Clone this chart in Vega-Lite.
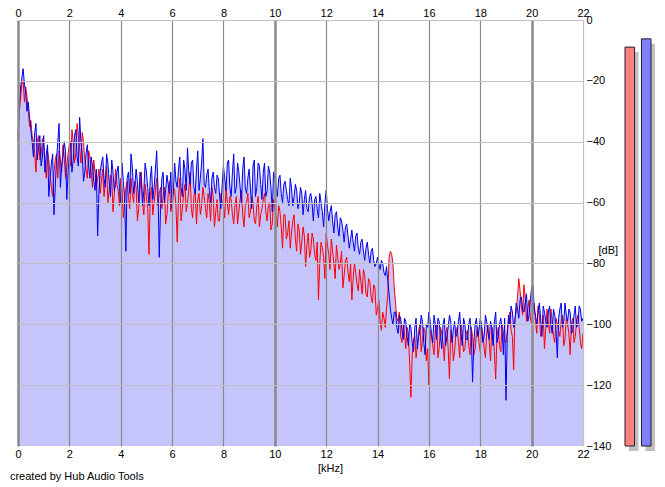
{
  "$schema": "https://vega.github.io/schema/vega-lite/v6.json",
  "description": "Spectrum of a two-channel recording (red and blue) with level meters, 0-22 kHz.",
  "background": "white",
  "padding": {"left": 9, "top": 7, "right": 5, "bottom": 5},
  "bounds": "flush",
  "spacing": 42,
  "title": {
    "text": "created by Hub Audio Tools",
    "orient": "bottom",
    "anchor": "start",
    "font": "Liberation Sans",
    "fontSize": 11,
    "fontWeight": "normal",
    "color": "black",
    "dx": -5,
    "offset": -2
  },
  "resolve": {"scale": {"color": "independent"}},
  "hconcat": [
    {
      "width": 565,
      "height": 426,
      "data": {
        "values": [
          {"f":0,"left":-38,"right":-40},{"f":0.05,"left":-30,"right":-28},{"f":0.1,"left":-26,"right":-22},{"f":0.15,"left":-21,"right":-19},
          {"f":0.2,"left":-20,"right":-16},{"f":0.25,"left":-27,"right":-21},{"f":0.3,"left":-22,"right":-24},{"f":0.35,"left":-25,"right":-30},
          {"f":0.4,"left":-30,"right":-27},{"f":0.45,"left":-35,"right":-32},{"f":0.5,"left":-33,"right":-36},{"f":0.55,"left":-38,"right":-40},
          {"f":0.6,"left":-40,"right":-45},{"f":0.65,"left":-44,"right":-37},{"f":0.7,"left":-50,"right":-34},{"f":0.75,"left":-40,"right":-46},
          {"f":0.8,"left":-38,"right":-42},{"f":0.85,"left":-46,"right":-38},{"f":0.9,"left":-44,"right":-48},{"f":0.95,"left":-39,"right":-45},
          {"f":1,"left":-41,"right":-38},{"f":1.05,"left":-47,"right":-50},{"f":1.1,"left":-52,"right":-44},{"f":1.15,"left":-43,"right":-41},
          {"f":1.2,"left":-46,"right":-58},{"f":1.25,"left":-51,"right":-52},{"f":1.3,"left":-55,"right":-47},{"f":1.35,"left":-58,"right":-44},
          {"f":1.4,"left":-50,"right":-64},{"f":1.45,"left":-46,"right":-55},{"f":1.5,"left":-44,"right":-46},{"f":1.55,"left":-52,"right":-40},
          {"f":1.6,"left":-43,"right":-34},{"f":1.65,"left":-46,"right":-55},{"f":1.7,"left":-50,"right":-48},{"f":1.75,"left":-41,"right":-45},
          {"f":1.8,"left":-45,"right":-40},{"f":1.85,"left":-52,"right":-43},{"f":1.9,"left":-48,"right":-59},{"f":1.95,"left":-44,"right":-50},
          {"f":2,"left":-41,"right":-44},{"f":2.05,"left":-48,"right":-40},{"f":2.1,"left":-36,"right":-50},{"f":2.15,"left":-40,"right":-46},
          {"f":2.2,"left":-47,"right":-38},{"f":2.25,"left":-44,"right":-36},{"f":2.3,"left":-34,"right":-45},{"f":2.35,"left":-38,"right":-48},
          {"f":2.4,"left":-42,"right":-32},{"f":2.45,"left":-47,"right":-40},{"f":2.5,"left":-37,"right":-44},{"f":2.55,"left":-40,"right":-53},
          {"f":2.6,"left":-46,"right":-50},{"f":2.65,"left":-49,"right":-44},{"f":2.7,"left":-52,"right":-41},{"f":2.75,"left":-43,"right":-48},
          {"f":2.8,"left":-45,"right":-52},{"f":2.85,"left":-50,"right":-45},{"f":2.9,"left":-55,"right":-48},{"f":2.95,"left":-46,"right":-53},
          {"f":3,"left":-50,"right":-56},{"f":3.05,"left":-55,"right":-49},{"f":3.1,"left":-52,"right":-71},{"f":3.15,"left":-49,"right":-57},
          {"f":3.2,"left":-57,"right":-50},{"f":3.25,"left":-53,"right":-47},{"f":3.3,"left":-49,"right":-45},{"f":3.35,"left":-58,"right":-52},
          {"f":3.4,"left":-53,"right":-55},{"f":3.45,"left":-48,"right":-44},{"f":3.5,"left":-60,"right":-47},{"f":3.55,"left":-56,"right":-53},
          {"f":3.6,"left":-51,"right":-58},{"f":3.65,"left":-52,"right":-46},{"f":3.7,"left":-63,"right":-50},{"f":3.75,"left":-57,"right":-56},
          {"f":3.8,"left":-49,"right":-54},{"f":3.85,"left":-54,"right":-50},{"f":3.9,"left":-56,"right":-48},{"f":3.95,"left":-61,"right":-55},
          {"f":4,"left":-52,"right":-60},{"f":4.05,"left":-55,"right":-47},{"f":4.1,"left":-65,"right":-53},{"f":4.15,"left":-60,"right":-58},
          {"f":4.2,"left":-55,"right":-76},{"f":4.25,"left":-53,"right":-52},{"f":4.3,"left":-58,"right":-50},{"f":4.35,"left":-62,"right":-57},
          {"f":4.4,"left":-52,"right":-44},{"f":4.45,"left":-57,"right":-48},{"f":4.5,"left":-60,"right":-57},{"f":4.55,"left":-53,"right":-54},
          {"f":4.6,"left":-55,"right":-49},{"f":4.65,"left":-66,"right":-53},{"f":4.7,"left":-62,"right":-60},{"f":4.75,"left":-56,"right":-50},
          {"f":4.8,"left":-50,"right":-52},{"f":4.85,"left":-60,"right":-61},{"f":4.9,"left":-64,"right":-56},{"f":4.95,"left":-54,"right":-47},
          {"f":5,"left":-58,"right":-50},{"f":5.05,"left":-62,"right":-55},{"f":5.1,"left":-77,"right":-61},{"f":5.15,"left":-58,"right":-52},
          {"f":5.2,"left":-55,"right":-48},{"f":5.25,"left":-64,"right":-59},{"f":5.3,"left":-60,"right":-55},{"f":5.35,"left":-56,"right":-49},
          {"f":5.4,"left":-52,"right":-43},{"f":5.45,"left":-61,"right":-55},{"f":5.5,"left":-57,"right":-78},{"f":5.55,"left":-55,"right":-62},
          {"f":5.6,"left":-62,"right":-52},{"f":5.65,"left":-58,"right":-50},{"f":5.7,"left":-55,"right":-60},{"f":5.75,"left":-67,"right":-56},
          {"f":5.8,"left":-64,"right":-51},{"f":5.85,"left":-57,"right":-54},{"f":5.9,"left":-53,"right":-57},{"f":5.95,"left":-63,"right":-50},
          {"f":6,"left":-60,"right":-62},{"f":6.05,"left":-55,"right":-56},{"f":6.1,"left":-56,"right":-47},{"f":6.15,"left":-61,"right":-53},
          {"f":6.2,"left":-73,"right":-55},{"f":6.25,"left":-58,"right":-49},{"f":6.3,"left":-52,"right":-45},{"f":6.35,"left":-66,"right":-55},
          {"f":6.4,"left":-62,"right":-58},{"f":6.45,"left":-57,"right":-46},{"f":6.5,"left":-54,"right":-49},{"f":6.55,"left":-63,"right":-56},
          {"f":6.6,"left":-60,"right":-42},{"f":6.65,"left":-56,"right":-50},{"f":6.7,"left":-50,"right":-54},{"f":6.75,"left":-62,"right":-47},
          {"f":6.8,"left":-65,"right":-46},{"f":6.85,"left":-58,"right":-55},{"f":6.9,"left":-56,"right":-57},{"f":6.95,"left":-67,"right":-49},
          {"f":7,"left":-59,"right":-43},{"f":7.05,"left":-57,"right":-56},{"f":7.1,"left":-64,"right":-52},{"f":7.15,"left":-61,"right":-47},
          {"f":7.2,"left":-55,"right":-39},{"f":7.25,"left":-58,"right":-54},{"f":7.3,"left":-62,"right":-55},{"f":7.35,"left":-65,"right":-51},
          {"f":7.4,"left":-57,"right":-49},{"f":7.45,"left":-60,"right":-56},{"f":7.5,"left":-66,"right":-60},{"f":7.55,"left":-55,"right":-52},
          {"f":7.6,"left":-58,"right":-50},{"f":7.65,"left":-68,"right":-55},{"f":7.7,"left":-63,"right":-57},{"f":7.75,"left":-59,"right":-51},
          {"f":7.8,"left":-66,"right":-52},{"f":7.85,"left":-66,"right":-58},{"f":7.9,"left":-57,"right":-62},{"f":7.95,"left":-60,"right":-54},
          {"f":8,"left":-61,"right":-48},{"f":8.05,"left":-65,"right":-52},{"f":8.1,"left":-55,"right":-56},{"f":8.15,"left":-60,"right":-47},
          {"f":8.2,"left":-64,"right":-46},{"f":8.25,"left":-58,"right":-55},{"f":8.3,"left":-59,"right":-58},{"f":8.35,"left":-64,"right":-50},
          {"f":8.4,"left":-67,"right":-44},{"f":8.45,"left":-61,"right":-57},{"f":8.5,"left":-58,"right":-55},{"f":8.55,"left":-67,"right":-47},
          {"f":8.6,"left":-63,"right":-50},{"f":8.65,"left":-59,"right":-55},{"f":8.7,"left":-56,"right":-60},{"f":8.75,"left":-64,"right":-49},
          {"f":8.8,"left":-68,"right":-45},{"f":8.85,"left":-61,"right":-55},{"f":8.9,"left":-60,"right":-57},{"f":8.95,"left":-57,"right":-52},
          {"f":9,"left":-65,"right":-49},{"f":9.05,"left":-63,"right":-55},{"f":9.1,"left":-58,"right":-62},{"f":9.15,"left":-60,"right":-48},
          {"f":9.2,"left":-66,"right":-46},{"f":9.25,"left":-67,"right":-58},{"f":9.3,"left":-61,"right":-55},{"f":9.35,"left":-58,"right":-47},
          {"f":9.4,"left":-68,"right":-48},{"f":9.45,"left":-64,"right":-54},{"f":9.5,"left":-62,"right":-59},{"f":9.55,"left":-59,"right":-50},
          {"f":9.6,"left":-57,"right":-47},{"f":9.65,"left":-63,"right":-58},{"f":9.7,"left":-66,"right":-56},{"f":9.75,"left":-61,"right":-48},
          {"f":9.8,"left":-60,"right":-50},{"f":9.85,"left":-69,"right":-55},{"f":9.9,"left":-67,"right":-63},{"f":9.95,"left":-59,"right":-50},
          {"f":10,"left":-62,"right":-52},{"f":10.05,"left":-65,"right":-55},{"f":10.1,"left":-68,"right":-58},{"f":10.15,"left":-61,"right":-52},
          {"f":10.2,"left":-63,"right":-51},{"f":10.25,"left":-68,"right":-57},{"f":10.3,"left":-75,"right":-60},{"f":10.35,"left":-64,"right":-54},
          {"f":10.4,"left":-64,"right":-53},{"f":10.45,"left":-72,"right":-56},{"f":10.5,"left":-70,"right":-59},{"f":10.55,"left":-66,"right":-61},
          {"f":10.6,"left":-75,"right":-52},{"f":10.65,"left":-70,"right":-55},{"f":10.7,"left":-66,"right":-61},{"f":10.75,"left":-64,"right":-58},
          {"f":10.8,"left":-72,"right":-54},{"f":10.85,"left":-76,"right":-56},{"f":10.9,"left":-67,"right":-62},{"f":10.95,"left":-69,"right":-60},
          {"f":11,"left":-77,"right":-55},{"f":11.05,"left":-73,"right":-57},{"f":11.1,"left":-68,"right":-64},{"f":11.15,"left":-71,"right":-59},
          {"f":11.2,"left":-81,"right":-56},{"f":11.25,"left":-74,"right":-62},{"f":11.3,"left":-70,"right":-63},{"f":11.35,"left":-78,"right":-58},
          {"f":11.4,"left":-76,"right":-57},{"f":11.45,"left":-70,"right":-60},{"f":11.5,"left":-72,"right":-66},{"f":11.55,"left":-77,"right":-59},
          {"f":11.6,"left":-79,"right":-58},{"f":11.65,"left":-73,"right":-62},{"f":11.7,"left":-92,"right":-65},{"f":11.75,"left":-80,"right":-57},
          {"f":11.8,"left":-73,"right":-60},{"f":11.85,"left":-75,"right":-63},{"f":11.9,"left":-78,"right":-68},{"f":11.95,"left":-85,"right":-60},
          {"f":12,"left":-70,"right":-56},{"f":12.05,"left":-74,"right":-62},{"f":12.1,"left":-77,"right":-66},{"f":12.15,"left":-82,"right":-63},
          {"f":12.2,"left":-72,"right":-61},{"f":12.25,"left":-76,"right":-66},{"f":12.3,"left":-80,"right":-70},{"f":12.35,"left":-85,"right":-64},
          {"f":12.4,"left":-74,"right":-63},{"f":12.45,"left":-78,"right":-68},{"f":12.5,"left":-82,"right":-71},{"f":12.55,"left":-80,"right":-65},
          {"f":12.6,"left":-76,"right":-66},{"f":12.65,"left":-88,"right":-69},{"f":12.7,"left":-84,"right":-73},{"f":12.75,"left":-79,"right":-68},
          {"f":12.8,"left":-78,"right":-67},{"f":12.85,"left":-83,"right":-71},{"f":12.9,"left":-86,"right":-75},{"f":12.95,"left":-80,"right":-72},
          {"f":13,"left":-92,"right":-69},{"f":13.05,"left":-85,"right":-73},{"f":13.1,"left":-80,"right":-76},{"f":13.15,"left":-83,"right":-71},
          {"f":13.2,"left":-87,"right":-70},{"f":13.25,"left":-89,"right":-75},{"f":13.3,"left":-82,"right":-77},{"f":13.35,"left":-86,"right":-73},
          {"f":13.4,"left":-90,"right":-72},{"f":13.45,"left":-82,"right":-76},{"f":13.5,"left":-84,"right":-79},{"f":13.55,"left":-90,"right":-75},
          {"f":13.6,"left":-91,"right":-73},{"f":13.65,"left":-85,"right":-77},{"f":13.7,"left":-86,"right":-80},{"f":13.75,"left":-91,"right":-76},
          {"f":13.8,"left":-93,"right":-75},{"f":13.85,"left":-87,"right":-79},{"f":13.9,"left":-88,"right":-81},{"f":13.95,"left":-97,"right":-80},
          {"f":14,"left":-95,"right":-78},{"f":14.05,"left":-92,"right":-80},{"f":14.1,"left":-99,"right":-82},{"f":14.15,"left":-102,"right":-79},
          {"f":14.2,"left":-96,"right":-80},{"f":14.25,"left":-98,"right":-83},{"f":14.3,"left":-101,"right":-84},{"f":14.35,"left":-95,"right":-81},
          {"f":14.4,"left":-90,"right":-86},{"f":14.45,"left":-78,"right":-90},{"f":14.5,"left":-76,"right":-95},{"f":14.55,"left":-77,"right":-98},
          {"f":14.6,"left":-80,"right":-100},{"f":14.65,"left":-88,"right":-96},{"f":14.7,"left":-93,"right":-96},{"f":14.75,"left":-98,"right":-101},
          {"f":14.8,"left":-99,"right":-103},{"f":14.85,"left":-96,"right":-97},{"f":14.9,"left":-104,"right":-98},{"f":14.95,"left":-106,"right":-102},
          {"f":15,"left":-100,"right":-105},{"f":15.05,"left":-103,"right":-98},{"f":15.1,"left":-108,"right":-99},{"f":15.15,"left":-101,"right":-104},
          {"f":15.2,"left":-103,"right":-107},{"f":15.25,"left":-113,"right":-100},{"f":15.3,"left":-124,"right":-101},{"f":15.35,"left":-110,"right":-106},
          {"f":15.4,"left":-105,"right":-109},{"f":15.45,"left":-104,"right":-101},{"f":15.5,"left":-111,"right":-98},{"f":15.55,"left":-107,"right":-108},
          {"f":15.6,"left":-102,"right":-104},{"f":15.65,"left":-100,"right":-102},{"f":15.7,"left":-109,"right":-97},{"f":15.75,"left":-105,"right":-99},
          {"f":15.8,"left":-101,"right":-106},{"f":15.85,"left":-103,"right":-110},{"f":15.9,"left":-112,"right":-100},{"f":15.95,"left":-108,"right":-101},
          {"f":16,"left":-120,"right":-96},{"f":16.05,"left":-102,"right":-99},{"f":16.1,"left":-104,"right":-103},{"f":16.15,"left":-107,"right":-106},
          {"f":16.2,"left":-110,"right":-97},{"f":16.25,"left":-102,"right":-100},{"f":16.3,"left":-100,"right":-105},{"f":16.35,"left":-111,"right":-98},
          {"f":16.4,"left":-108,"right":-99},{"f":16.45,"left":-101,"right":-104},{"f":16.5,"left":-103,"right":-108},{"f":16.55,"left":-106,"right":-100},
          {"f":16.6,"left":-112,"right":-98},{"f":16.65,"left":-103,"right":-107},{"f":16.7,"left":-101,"right":-104},{"f":16.75,"left":-108,"right":-101},
          {"f":16.8,"left":-118,"right":-97},{"f":16.85,"left":-102,"right":-99},{"f":16.9,"left":-104,"right":-106},{"f":16.95,"left":-112,"right":-102},
          {"f":17,"left":-109,"right":-99},{"f":17.05,"left":-103,"right":-104},{"f":17.1,"left":-101,"right":-103},{"f":17.15,"left":-106,"right":-99},
          {"f":17.2,"left":-111,"right":-96},{"f":17.25,"left":-100,"right":-103},{"f":17.3,"left":-104,"right":-107},{"f":17.35,"left":-109,"right":-98},
          {"f":17.4,"left":-108,"right":-100},{"f":17.45,"left":-103,"right":-105},{"f":17.5,"left":-102,"right":-105},{"f":17.55,"left":-107,"right":-100},
          {"f":17.6,"left":-110,"right":-98},{"f":17.65,"left":-101,"right":-103},{"f":17.7,"left":-104,"right":-119},{"f":17.75,"left":-110,"right":-106},
          {"f":17.8,"left":-108,"right":-100},{"f":17.85,"left":-103,"right":-98},{"f":17.9,"left":-101,"right":-104},{"f":17.95,"left":-106,"right":-102},
          {"f":18,"left":-109,"right":-98},{"f":18.05,"left":-101,"right":-100},{"f":18.1,"left":-103,"right":-106},{"f":18.15,"left":-108,"right":-104},
          {"f":18.2,"left":-111,"right":-97},{"f":18.25,"left":-103,"right":-99},{"f":18.3,"left":-100,"right":-103},{"f":18.35,"left":-106,"right":-105},
          {"f":18.4,"left":-112,"right":-99},{"f":18.45,"left":-101,"right":-101},{"f":18.5,"left":-104,"right":-107},{"f":18.55,"left":-109,"right":-99},
          {"f":18.6,"left":-118,"right":-96},{"f":18.65,"left":-104,"right":-106},{"f":18.7,"left":-101,"right":-104},{"f":18.75,"left":-107,"right":-100},
          {"f":18.8,"left":-109,"right":-98},{"f":18.85,"left":-100,"right":-102},{"f":18.9,"left":-103,"right":-110},{"f":18.95,"left":-105,"right":-98},
          {"f":19,"left":-106,"right":-125},{"f":19.05,"left":-102,"right":-104},{"f":19.1,"left":-99,"right":-97},{"f":19.15,"left":-96,"right":-100},
          {"f":19.2,"left":-102,"right":-94},{"f":19.25,"left":-104,"right":-96},{"f":19.3,"left":-115,"right":-101},{"f":19.35,"left":-98,"right":-99},
          {"f":19.4,"left":-96,"right":-93},{"f":19.45,"left":-91,"right":-95},{"f":19.5,"left":-85,"right":-98},{"f":19.55,"left":-89,"right":-92},
          {"f":19.6,"left":-94,"right":-91},{"f":19.65,"left":-97,"right":-95},{"f":19.7,"left":-87,"right":-96},{"f":19.75,"left":-91,"right":-93},
          {"f":19.8,"left":-99,"right":-90},{"f":19.85,"left":-95,"right":-99},{"f":19.9,"left":-92,"right":-97},{"f":19.95,"left":-98,"right":-92},
          {"f":20,"left":-100,"right":-88},{"f":20.05,"left":-95,"right":-87},{"f":20.1,"left":-93,"right":-95},{"f":20.15,"left":-99,"right":-97},
          {"f":20.2,"left":-103,"right":-100},{"f":20.25,"left":-94,"right":-96},{"f":20.3,"left":-97,"right":-93},{"f":20.35,"left":-104,"right":-98},
          {"f":20.4,"left":-101,"right":-104},{"f":20.45,"left":-97,"right":-94},{"f":20.5,"left":-108,"right":-96},{"f":20.55,"left":-101,"right":-99},
          {"f":20.6,"left":-95,"right":-101},{"f":20.65,"left":-99,"right":-96},{"f":20.7,"left":-103,"right":-94},{"f":20.75,"left":-95,"right":-100},
          {"f":20.8,"left":-99,"right":-103},{"f":20.85,"left":-104,"right":-95},{"f":20.9,"left":-106,"right":-97},{"f":20.95,"left":-98,"right":-102},
          {"f":21,"left":-100,"right":-111},{"f":21.05,"left":-102,"right":-98},{"f":21.1,"left":-104,"right":-95},{"f":21.15,"left":-99,"right":-93},
          {"f":21.2,"left":-97,"right":-101},{"f":21.25,"left":-107,"right":-99},{"f":21.3,"left":-105,"right":-93},{"f":21.35,"left":-98,"right":-97},
          {"f":21.4,"left":-100,"right":-99},{"f":21.45,"left":-103,"right":-95},{"f":21.5,"left":-110,"right":-96},{"f":21.55,"left":-100,"right":-103},
          {"f":21.6,"left":-98,"right":-102},{"f":21.65,"left":-106,"right":-97},{"f":21.7,"left":-104,"right":-94},{"f":21.75,"left":-99,"right":-101},
          {"f":21.8,"left":-97,"right":-100},{"f":21.85,"left":-101,"right":-94},{"f":21.9,"left":-106,"right":-95},{"f":21.95,"left":-108,"right":-99},
          {"f":22,"left":-103,"right":-98}
        ]
      },
      "transform": [{"fold": ["left", "right"], "as": ["ch", "db"]}],
      "resolve": {"axis": {"y": "independent"}},
      "layer": [
        {
          "mark": {"type": "area", "color": "#c5c5fb"},
          "encoding": {
            "x": {
              "field": "f", "type": "quantitative",
              "scale": {"domain": [0, 22], "nice": false},
              "axis": {
                "orient": "top", "values": [0, 2, 4, 6, 8, 10, 12, 14, 16, 18, 20, 22],
                "grid": false, "ticks": false, "domain": false, "title": null,
                "labelPadding": 2, "labelFlush": false, "labelOverlap": false
              }
            },
            "y": {
              "field": "db", "type": "quantitative", "stack": null,
              "scale": {"domain": [-140, 0], "nice": false, "zero": false},
              "axis": {
                "orient": "right", "values": [0, -20, -40, -60, -80, -100, -120, -140],
                "grid": true,
                "gridColor": {"condition": {"test": "datum.value === -140", "value": "transparent"}, "value": "#c0c0c0"},
                "gridWidth": 1,
                "ticks": false, "domain": false,
                "labelPadding": 3, "labelAlign": "left", "labelBaseline": "middle",
                "labelFlush": false, "labelOverlap": false,
                "title": "[dB]", "titleAngle": 0, "titleAlign": "left", "titleBaseline": "alphabetic",
                "titleX": 15, "titleY": 233,
                "zindex": 1
              }
            },
            "y2": {"datum": -140},
            "detail": {"field": "ch"}
          }
        },
        {
          "mark": {"type": "line", "strokeWidth": 1},
          "encoding": {
            "x": {
              "field": "f", "type": "quantitative",
              "axis": {
                "orient": "bottom", "values": [0, 2, 4, 6, 8, 10, 12, 14, 16, 18, 20, 22],
                "grid": true,
                "gridColor": {"condition": {"test": "datum.value === 22", "value": "#c4c4c4"}, "value": "#8a8a8a"},
                "gridWidth": {"condition": {"test": "datum.value % 10 === 0", "value": 2.5}, "value": 1.2},
                "ticks": false, "domain": false,
                "labelPadding": 2, "labelFlush": false, "labelOverlap": false,
                "title": "[kHz]", "titleX": 312, "titleY": 25, "titleAlign": "center", "titleBaseline": "alphabetic",
                "zindex": 1
              }
            },
            "y": {"field": "db", "type": "quantitative", "axis": null},
            "color": {
              "field": "ch", "type": "nominal",
              "scale": {"domain": ["left", "right"], "range": ["#ff0000", "#0000ee"]},
              "legend": null
            }
          }
        }
      ]
    },
    {
      "width": 26,
      "height": 426,
      "data": {"values": [{"ch": "left", "level": -8.9}, {"ch": "right", "level": -6.2}]},
      "encoding": {
        "x": {"field": "ch", "type": "nominal", "scale": {"paddingInner": 0.42, "paddingOuter": 0}, "axis": null},
        "y": {"field": "level", "type": "quantitative", "scale": {"domain": [-140, 0], "nice": false, "zero": false}, "axis": null},
        "y2": {"datum": -140}
      },
      "layer": [
        {"mark": {"type": "bar", "color": "#c0c0c0", "xOffset": 4, "yOffset": 5, "y2Offset": 5}},
        {
          "mark": {"type": "bar", "stroke": "#202020", "strokeWidth": 1},
          "encoding": {
            "color": {"field": "ch", "type": "nominal", "scale": {"range": ["#ff8080", "#8080ff"]}, "legend": null}
          }
        }
      ]
    }
  ],
  "config": {
    "font": "Liberation Sans",
    "view": {"stroke": null},
    "axis": {
      "labelFont": "Liberation Sans", "labelFontSize": 11, "labelColor": "black",
      "titleFont": "Liberation Sans", "titleFontSize": 11, "titleFontWeight": "normal", "titleColor": "black"
    }
  }
}
